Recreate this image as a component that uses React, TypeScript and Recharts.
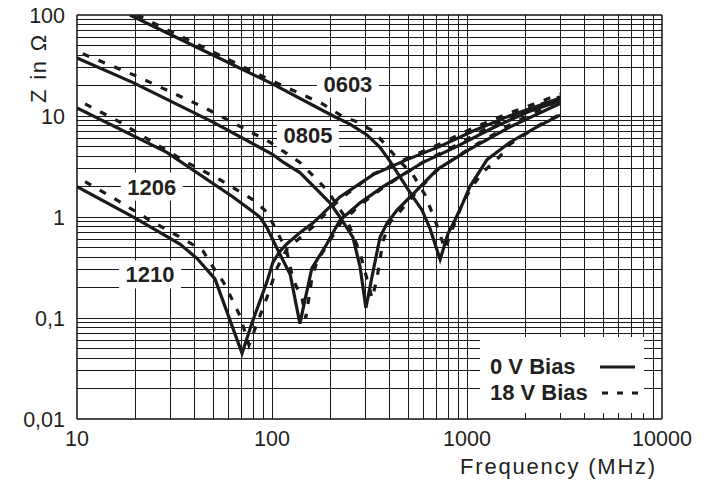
import React from 'react';
import { LineChart, Line, XAxis, YAxis, ReferenceLine, ReferenceDot } from 'recharts';

// impedance curves (frequency in MHz, Z in Ohm)
const F_0603_0V = [18.7, 50, 100, 206, 251, 307, 358, 403, 470, 528, 588, 646, 728, 800, 867, 953, 1035, 1267, 1663, 2287, 3000];
const Z_0603_0V = [100, 40, 20.9, 10, 8.3, 6.5, 4.9, 3.55, 2.24, 1.58, 1.17, 0.77, 0.38, 0.69, 0.93, 1.38, 2.0, 3.7, 5.5, 7.8, 10.2];
const F_0603_18V = [20.3, 46.4, 100, 180, 228, 267, 330, 389, 443, 528, 609, 686, 771, 837, 942, 1061, 1208, 1425, 1663, 2287, 3000];
const Z_0603_18V = [100, 46, 22.3, 13.3, 10, 8.9, 7.1, 5.0, 3.7, 2.63, 1.66, 0.93, 0.48, 0.74, 1.32, 2.0, 2.8, 3.7, 5.25, 7.9, 10.4];

const F_0805_0V = [10, 19.4, 49.8, 100, 114, 139, 176, 198, 223, 260, 283, 303, 330, 358, 389, 438, 555, 702, 1035, 1663, 3000];
const Z_0805_0V = [37.5, 21.4, 8.7, 4.2, 3.5, 2.75, 1.74, 1.38, 1.0, 0.63, 0.32, 0.126, 0.29, 0.63, 0.87, 1.17, 1.86, 2.95, 4.7, 7.8, 13.3];
const F_0805_18V = [10.7, 20.3, 44.3, 97.7, 139, 191, 243, 283, 326, 345, 371, 403, 438, 555, 702, 1035, 1663, 3000];
const Z_0805_18V = [41.3, 24.7, 12.3, 5.5, 3.47, 1.86, 0.93, 0.44, 0.156, 0.244, 0.58, 0.89, 1.05, 1.8, 2.9, 4.8, 8.2, 14.5];

const F_1206_0V = [10, 28.9, 63.1, 86.7, 94, 106, 124, 139, 160, 191, 223, 283, 371, 595, 889, 1313, 2032, 3000];
const Z_1206_0V = [12.0, 4.37, 1.58, 1.0, 0.79, 0.49, 0.27, 0.088, 0.31, 0.54, 0.93, 1.38, 2.0, 3.47, 5.0, 7.4, 10.9, 14.2];
const F_1206_18V = [11.0, 16.6, 24.5, 36.6, 54.1, 80, 94.2, 103.5, 119, 128, 143, 149, 160, 170, 187, 203, 223, 283, 371, 595, 889, 1313, 2032, 3000];
const Z_1206_18V = [13.2, 8.7, 5.5, 3.47, 2.34, 1.48, 1.12, 0.79, 0.46, 0.244, 0.153, 0.1, 0.244, 0.36, 0.49, 0.63, 0.85, 1.32, 1.95, 3.5, 5.2, 7.9, 11.5, 15.5];

const F_1210_0V = [10, 19.8, 33.7, 41.2, 51, 70.2, 78.9, 88.9, 94.2, 101, 110, 119, 139, 162, 198, 223, 330, 492, 727, 1074, 1603, 2366, 3000];
const Z_1210_0V = [2.0, 0.98, 0.54, 0.39, 0.244, 0.0446, 0.089, 0.168, 0.228, 0.356, 0.46, 0.54, 0.7, 0.87, 1.26, 1.58, 2.63, 3.7, 5.0, 7.1, 9.8, 12.8, 15.1];
const F_1210_18V = [11.0, 16.6, 24.5, 36.6, 44.3, 49.8, 56.1, 62.4, 68.5, 76.2, 86.7, 94.2, 106, 119, 139, 162, 198, 223, 330, 492, 727, 1074, 1603, 2366, 3000];
const Z_1210_18V = [2.24, 1.41, 0.89, 0.58, 0.46, 0.32, 0.23, 0.153, 0.105, 0.054, 0.105, 0.16, 0.31, 0.48, 0.62, 0.8, 1.2, 1.5, 2.65, 3.8, 5.3, 7.6, 10.5, 13.8, 16.5];

const FREQ_TICKS = [10, 100, 1000, 10000];
const Z_TICKS = [0.01, 0.1, 1, 10, 100];
const FREQ_GRID = [20, 30, 40, 50, 60, 70, 80, 90, 100, 200, 300, 400, 500, 600, 700, 800, 900, 1000, 2000, 3000, 4000, 5000, 6000, 7000, 8000, 9000];
const Z_GRID = [0.02, 0.03, 0.04, 0.05, 0.06, 0.07, 0.08, 0.09, 0.1, 0.2, 0.3, 0.4, 0.5, 0.6, 0.7, 0.8, 0.9, 1, 2, 3, 4, 5, 6, 7, 8, 9, 10, 20, 30, 40, 50, 60, 70, 80, 90];

const LABEL_TEXT = ['0603', '0805', '1206', '1210'];
const LABEL_F = [245, 153, 24.2, 23.7];
const LABEL_Z = [20.9, 6.46, 2.0, 0.27];

const series = [
  { key: '0603-0', f: F_0603_0V, z: Z_0603_0V, dashed: false },
  { key: '0603-18', f: F_0603_18V, z: Z_0603_18V, dashed: true },
  { key: '0805-0', f: F_0805_0V, z: Z_0805_0V, dashed: false },
  { key: '0805-18', f: F_0805_18V, z: Z_0805_18V, dashed: true },
  { key: '1206-0', f: F_1206_0V, z: Z_1206_0V, dashed: false },
  { key: '1206-18', f: F_1206_18V, z: Z_1206_18V, dashed: true },
  { key: '1210-0', f: F_1210_0V, z: Z_1210_0V, dashed: false },
  { key: '1210-18', f: F_1210_18V, z: Z_1210_18V, dashed: true },
];

const FONT = '"Liberation Sans", Arial, Helvetica, sans-serif';
const INK = '#231f20';

const zFormat = (v: number) => String(v).replace('.', ',');

const SizeLabel = ({ cx, cy, text }: any) => (
  <g>
    <rect x={cx - 31} y={cy - 14} width={62} height={28} fill="#fff" />
    <text x={cx} y={cy} dy="0.36em" textAnchor="middle" fontSize={22} fontWeight="bold" fontFamily={FONT} fill={INK}>
      {text}
    </text>
  </g>
);

export default function App() {
  return (
    <div style={{ position: 'relative', width: 709, height: 483, background: '#fff', fontFamily: FONT, color: INK }}>
      <style>{'body{margin:0} .grid-line line{shape-rendering:crispEdges}'}</style>
      <LineChart width={709} height={483} margin={{ top: 15, right: 47, bottom: 0, left: 0 }}>
        <XAxis
          dataKey="f"
          type="number"
          scale="log"
          domain={[10, 10000]}
          allowDataOverflow
          ticks={FREQ_TICKS}
          height={64}
          axisLine={false}
          tickLine={false}
          tickMargin={6}
          tick={{ fontSize: 21.5, fill: INK, fontFamily: FONT }}
        />
        <YAxis
          type="number"
          scale="log"
          domain={[0.01, 100]}
          allowDataOverflow
          ticks={Z_TICKS}
          width={77}
          axisLine={false}
          tickLine={false}
          tickMargin={6}
          tickFormatter={zFormat}
          tick={{ fontSize: 21.5, fill: INK, fontFamily: FONT }}
        />
        {FREQ_GRID.map((v) => (
          <ReferenceLine key={'v' + v} x={v} stroke="#1a1a1a" strokeWidth={1} className="grid-line" />
        ))}
        {Z_GRID.map((v) => (
          <ReferenceLine key={'h' + v} y={v} stroke="#1a1a1a" strokeWidth={1} className="grid-line" />
        ))}
        <ReferenceLine x={10} stroke="#111" strokeWidth={1.5} />
        <ReferenceLine x={10000} stroke="#111" strokeWidth={1.5} />
        <ReferenceLine y={0.01} stroke="#111" strokeWidth={1.5} />
        <ReferenceLine y={100} stroke="#111" strokeWidth={1.5} />
        {LABEL_TEXT.map((t, i) => (
          <ReferenceDot key={t} x={LABEL_F[i]} y={LABEL_Z[i]} r={1} shape={(p: any) => <SizeLabel {...p} text={t} />} />
        ))}
        {series.map((s) => (
          <Line
            key={s.key}
            data={s.f.map((f, i) => ({ f, z: s.z[i] }))}
            dataKey="z"
            type="linear"
            stroke="#1a1a1a"
            strokeWidth={3.2}
            strokeDasharray={s.dashed ? '7 10' : undefined}
            dot={false}
            activeDot={false}
            isAnimationActive={false}
          />
        ))}
      </LineChart>

      <div
        style={{
          position: 'absolute',
          left: 39,
          top: 68,
          transform: 'translate(-50%, -50%) rotate(-90deg)',
          fontSize: 22,
          letterSpacing: 1.8,
          whiteSpace: 'nowrap',
        }}
      >
        Z in Ω
      </div>
      <div
        style={{
          position: 'absolute',
          right: 709 - 657,
          top: 467,
          transform: 'translateY(-50%)',
          fontSize: 22,
          letterSpacing: 1.8,
          whiteSpace: 'nowrap',
        }}
      >
        Frequency (MHz)
      </div>

      <div
        style={{
          position: 'absolute',
          left: 480,
          top: 337,
          width: 164,
          height: 76,
          background: '#fff',
          fontWeight: 'bold',
          fontSize: 22,
        }}
      >
        <div style={{ position: 'absolute', left: 10, top: 30, transform: 'translateY(-50%)', whiteSpace: 'nowrap' }}>0 V Bias</div>
        <div style={{ position: 'absolute', left: 10, top: 56, transform: 'translateY(-50%)', whiteSpace: 'nowrap' }}>18 V Bias</div>
        <svg style={{ position: 'absolute', left: 0, top: 0 }} width={164} height={76}>
          <line x1={120} y1={30} x2={155} y2={30} stroke="#1a1a1a" strokeWidth={3} />
          <line x1={122} y1={56} x2={165} y2={56} stroke="#1a1a1a" strokeWidth={3} strokeDasharray="6 9" />
        </svg>
      </div>
    </div>
  );
}
